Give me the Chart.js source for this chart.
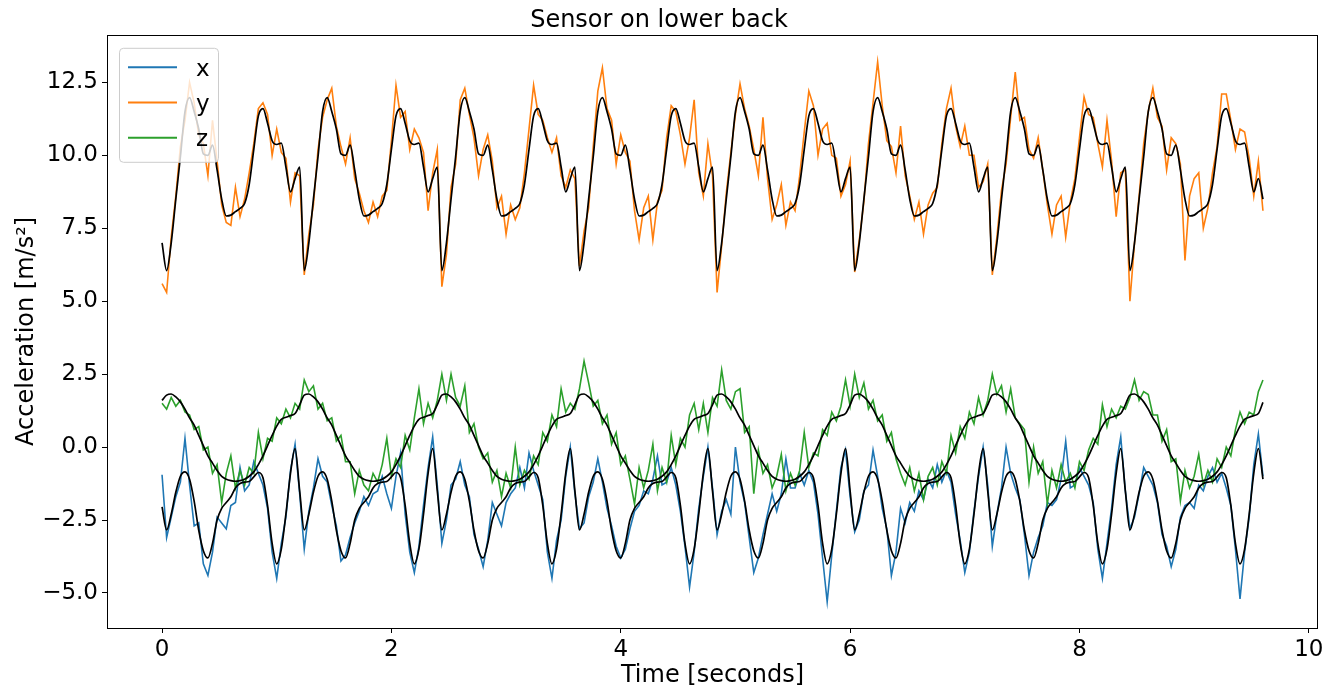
<!DOCTYPE html>
<html>
<head>
<meta charset="utf-8">
<title>Sensor on lower back</title>
<script src="https://cdn.jsdelivr.net/npm/chart.js@4.4.1/dist/chart.umd.min.js"></script>
<style>
    html, body { margin: 0; padding: 0; background: #ffffff; }
    .chart-box { position: relative; width: 1332px; height: 687px; }
</style>
</head>
<body>
<div class="chart-box"><canvas id="sensorChart"></canvas></div>
<script>
/* ========================================
   Lower back sensor - accelerometer plot
   ======================================== */

// Sample clock (seconds), one reading every 0.04 s from 0 to 9.6 s
const sampleStep = 0.04;
const timeSec = Array.from({ length: 241 }, (_, i) => Math.round(i * sampleStep * 100) / 100);

const seriesLabels = ['x', 'y', 'z'];
const xTickValues = [0, 2, 4, 6, 8, 10];
const yTickValues = [-5, -2.5, 0, 2.5, 5, 7.5, 10, 12.5];

// Raw readings, one line per gait cycle (30 samples)
const accX = [-0.95,
    -3.1, -2.4, -1.7, -1.2, 0.3, -1.3, -2.7, -2.6, -4.0, -4.4, -3.6, -2.4, -2.6, -2.8, -2.0, -1.9, -0.7, -1.5, -1.3, -0.5, -0.9, -1.3, -2.1, -3.6, -4.5, -3.3, -2.4, -0.8, 0.1, -1.6,
    -3.5, -2.2, -1.4, -0.4, -1.0, -1.2, -2.0, -2.7, -3.9, -3.7, -3.1, -2.6, -2.2, -1.7, -2.0, -1.6, -1.5, -1.0, -1.6, -2.1, -1.0, -0.2, -2.3, -3.6, -4.3, -3.4, -2.0, -0.7, 0.35, -1.3,
    -3.3, -2.5, -1.3, -1.1, -0.5, -1.3, -1.7, -3.0, -3.5, -4.1, -3.2, -1.9, -2.3, -2.7, -1.9, -1.6, -1.4, -0.7, -1.4, -0.2, -0.8, -1.3, -1.8, -3.6, -4.5, -3.2, -2.5, -1.0, 0.0, -1.6,
    -2.8, -2.6, -1.7, -1.2, -0.4, -1.2, -2.1, -2.7, -3.4, -3.8, -3.5, -2.8, -2.2, -2.0, -1.5, -1.6, -1.1, -0.3, -1.3, -1.2, -0.7, -1.3, -2.2, -3.4, -4.8, -3.6, -2.1, -1.0, 0.0, -1.4,
    -3.0, -2.2, -1.8, -2.3, 0.0, -1.2, -1.9, -3.1, -4.3, -3.8, -3.0, -2.3, -1.6, -2.2, -1.6, -0.4, -1.4, -1.4, -0.9, -1.3, -0.8, -1.2, -2.3, -3.8, -5.3, -3.7, -2.2, -0.7, -0.1, -1.7,
    -2.9, -2.5, -1.5, -1.3, -0.1, -1.0, -2.1, -2.8, -4.4, -3.6, -2.1, -2.6, -1.9, -2.2, -1.5, -1.8, -1.1, -1.4, -0.6, -1.2, -0.8, -1.2, -2.3, -3.2, -4.3, -3.6, -2.2, -1.0, 0.0, -1.3,
    -3.4, -2.3, -1.4, 0.0, -0.9, -1.4, -1.8, -3.0, -4.4, -3.6, -3.1, -2.7, -1.9, -2.0, -1.8, -1.1, 0.2, -1.4, -1.3, -0.7, -1.0, -1.3, -1.9, -3.5, -4.5, -3.3, -2.1, -0.6, 0.35, -1.5,
    -2.8, -2.4, -1.6, -0.7, -1.0, -1.3, -1.9, -3.0, -3.4, -4.1, -3.5, -2.4, -2.0, -1.9, -2.1, -1.3, -1.5, -1.0, -0.7, -1.2, -0.9, -1.4, -2.0, -3.5, -5.2, -3.6, -2.4, -0.6, 0.45, -1.0
];

const accY = [5.6,
    5.3, 7.2, 8.6, 10.3, 11.2, 12.5, 11.8, 10.7, 10.4, 9.3, 11.2, 9.8, 8.3, 7.7, 7.6, 8.9, 7.9, 8.5, 9.4, 10.4, 11.6, 11.8, 11.4, 10.0, 10.9, 10.1, 9.9, 8.4, 9.4, 9.3,
    5.9, 7.3, 8.3, 10.2, 11.3, 11.9, 12.3, 11.0, 10.3, 9.7, 10.6, 9.2, 8.7, 8.1, 7.7, 8.4, 7.9, 8.6, 8.8, 10.5, 12.4, 11.3, 11.5, 10.2, 10.9, 10.6, 10.1, 8.1, 9.4, 10.2,
    5.5, 6.6, 8.9, 9.7, 11.9, 12.3, 11.4, 10.6, 9.3, 10.2, 10.7, 9.8, 8.2, 8.6, 7.3, 8.3, 7.8, 8.2, 9.4, 10.9, 12.4, 11.4, 11.2, 10.6, 10.1, 10.6, 9.3, 8.9, 9.5, 9.2,
    6.2, 7.4, 8.2, 10.3, 12.2, 13.0, 11.6, 11.2, 9.7, 10.7, 10.1, 9.8, 8.1, 7.1, 8.2, 8.6, 7.1, 8.4, 8.8, 10.6, 11.7, 11.5, 10.7, 9.7, 10.6, 11.9, 9.4, 8.6, 10.4, 9.3,
    5.3, 6.9, 8.7, 10.1, 11.4, 12.45, 11.6, 11.0, 10.2, 9.3, 11.3, 9.2, 7.8, 8.3, 9.0, 7.6, 8.4, 8.1, 9.3, 10.8, 12.2, 11.7, 10.0, 10.9, 11.1, 10.0, 9.9, 8.6, 9.0, 9.8,
    6.0, 7.1, 8.4, 10.4, 11.8, 13.2, 11.7, 10.5, 10.3, 9.4, 11.0, 9.3, 8.6, 7.8, 8.4, 7.3, 8.3, 8.7, 8.9, 10.4, 11.6, 12.3, 11.0, 10.3, 11.0, 10.0, 10.0, 8.9, 9.1, 9.7,
    5.9, 7.2, 8.8, 9.7, 11.3, 12.85, 11.2, 11.3, 10.2, 9.9, 10.6, 9.5, 8.3, 7.3, 8.3, 8.6, 7.2, 8.4, 9.2, 10.6, 12.0, 11.4, 11.3, 10.4, 9.6, 11.2, 9.8, 7.9, 9.4, 9.5,
    5.0, 7.0, 8.6, 10.4, 11.5, 12.3, 11.3, 11.0, 9.5, 10.6, 10.4, 9.7, 6.4, 8.6, 9.2, 9.4, 7.5, 8.2, 9.4, 10.3, 12.1, 12.1, 11.2, 10.2, 10.9, 10.8, 9.9, 8.6, 9.8, 8.1
];

const accZ = [1.5,
    1.3, 1.7, 1.4, 1.6, 1.2, 1.1, 0.6, 0.7, -0.1, 0.0, -0.9, -0.6, -1.9, -0.9, -0.3, -1.4, -0.8, -1.3, -0.7, -0.9, 0.5, -0.4, 0.3, 0.2, 1.0, 0.8, 1.3, 1.0, 1.5, 1.3,
    2.3, 1.9, 2.1, 1.3, 1.5, 0.9, 1.0, 0.2, 0.4, -0.5, -0.5, -1.6, -0.8, -1.3, -1.5, -0.9, -1.2, -0.6, 0.3, -1.0, -0.4, -0.7, 0.4, -0.1, 1.0, 2.0, 0.8, 1.5, 1.0, 1.6,
    2.5, 1.6, 2.5, 1.7, 1.4, 2.1, 0.5, 0.8, 0.0, -0.4, -0.2, -1.2, -0.8, -1.7, -0.9, -1.4, 0.0, -1.3, -0.8, -1.1, -0.3, -0.6, 0.5, 0.2, 1.1, 0.7, 2.0, 1.2, 1.5, 1.3,
    2.0, 2.95, 2.2, 1.4, 1.6, 0.8, 1.1, 0.1, 0.5, -0.6, -0.3, -1.1, -1.95, -0.7, -1.4, -0.8, 0.1, -1.5, -0.7, -1.2, 0.4, -0.6, 0.3, 0.0, 1.1, 1.5, 0.6, 1.5, 0.5, 1.7,
    1.4, 2.65, 1.6, 1.3, 1.9, 2.0, 0.5, 0.7, -1.6, -0.1, -0.9, -0.6, -1.4, -1.0, -0.25, -1.5, -0.9, -1.3, -0.8, 0.5, -0.7, -0.2, -0.3, 0.6, 0.4, 1.2, 0.9, 1.4, 2.3, 1.4,
    2.5, 1.7, 2.2, 1.3, 1.6, 0.9, 1.1, 0.2, 0.5, -0.4, -0.9, -1.3, -0.7, -1.5, -0.9, -1.8, -1.0, -0.7, -1.3, -0.5, -0.9, 0.4, -0.2, 0.7, 0.3, 1.2, 0.8, 1.7, 1.1, 1.6,
    2.5, 1.8, 2.1, 1.2, 2.0, 1.0, 0.8, 0.6, -1.2, 0.0, -0.9, -0.5, -1.95, -0.8, -1.4, -0.6, -1.2, -0.9, -1.4, -0.5, -0.8, -0.1, 0.3, 0.1, 1.45, 0.7, 1.3, 1.0, 1.4, 1.3,
    1.7, 2.3, 1.6, 1.9, 1.8, 1.1, 1.1, 0.2, 0.6, -0.5, -0.4, -1.85, -0.8, -1.4, -1.0, -0.25, -1.3, -0.8, -1.2, -0.4, -0.7, 0.0, -0.3, 0.6, 1.2, 0.8, 1.2, 1.1, 1.9, 2.3
];

// Smoothed fits (black curves)
const fitX = [-2.05,
    -2.84, -2.3, -1.55, -1.0, -0.85, -1.1, -1.85, -2.85, -3.55, -3.8, -3.3, -2.5, -2.1, -1.9, -1.7, -1.4, -1.25, -1.2, -1.18, -1.02, -0.87, -1.05, -2.0, -3.3, -4.0, -3.5, -2.3, -0.9, -0.05, -1.5,
    -2.84, -2.3, -1.55, -1.0, -0.85, -1.1, -1.85, -2.85, -3.55, -3.8, -3.3, -2.5, -2.1, -1.9, -1.7, -1.4, -1.25, -1.2, -1.18, -1.02, -0.87, -1.05, -2.0, -3.3, -4.0, -3.5, -2.3, -0.9, -0.05, -1.5,
    -2.84, -2.3, -1.55, -1.0, -0.85, -1.1, -1.85, -2.85, -3.55, -3.8, -3.3, -2.5, -2.1, -1.9, -1.7, -1.4, -1.25, -1.2, -1.18, -1.02, -0.87, -1.05, -2.0, -3.3, -4.0, -3.5, -2.3, -0.9, -0.05, -1.5,
    -2.84, -2.3, -1.55, -1.0, -0.85, -1.1, -1.85, -2.85, -3.55, -3.8, -3.3, -2.5, -2.1, -1.9, -1.7, -1.4, -1.25, -1.2, -1.18, -1.02, -0.87, -1.05, -2.0, -3.3, -4.0, -3.5, -2.3, -0.9, -0.05, -1.5,
    -2.84, -2.3, -1.55, -1.0, -0.85, -1.1, -1.85, -2.85, -3.55, -3.8, -3.3, -2.5, -2.1, -1.9, -1.7, -1.4, -1.25, -1.2, -1.18, -1.02, -0.87, -1.05, -2.0, -3.3, -4.0, -3.5, -2.3, -0.9, -0.05, -1.5,
    -2.84, -2.3, -1.55, -1.0, -0.85, -1.1, -1.85, -2.85, -3.55, -3.8, -3.3, -2.5, -2.1, -1.9, -1.7, -1.4, -1.25, -1.2, -1.18, -1.02, -0.87, -1.05, -2.0, -3.3, -4.0, -3.5, -2.3, -0.9, -0.05, -1.5,
    -2.84, -2.3, -1.55, -1.0, -0.85, -1.1, -1.85, -2.85, -3.55, -3.8, -3.3, -2.5, -2.1, -1.9, -1.7, -1.4, -1.25, -1.2, -1.18, -1.02, -0.87, -1.05, -2.0, -3.3, -4.0, -3.5, -2.3, -0.9, -0.05, -1.5,
    -2.84, -2.3, -1.55, -1.0, -0.85, -1.1, -1.85, -2.85, -3.55, -3.8, -3.3, -2.5, -2.1, -1.9, -1.7, -1.4, -1.25, -1.2, -1.18, -1.02, -0.87, -1.05, -2.0, -3.3, -4.0, -3.5, -2.3, -0.9, -0.05, -1.1
];

const fitY = [7.0,
    6.05, 7.0, 8.5, 9.95, 11.5, 11.98, 11.5, 10.9, 10.05, 10.0, 10.35, 9.5, 8.5, 7.92, 7.95, 8.07, 8.18, 8.35, 9.0, 10.2, 11.35, 11.6, 11.1, 10.5, 10.37, 10.42, 9.6, 8.75, 9.2, 9.6,
    6.05, 7.0, 8.5, 9.95, 11.5, 11.98, 11.5, 10.9, 10.05, 10.0, 10.35, 9.5, 8.5, 7.92, 7.95, 8.07, 8.18, 8.35, 9.0, 10.2, 11.35, 11.6, 11.1, 10.5, 10.37, 10.42, 9.6, 8.75, 9.2, 9.6,
    6.05, 7.0, 8.5, 9.95, 11.5, 11.98, 11.5, 10.9, 10.05, 10.0, 10.35, 9.5, 8.5, 7.92, 7.95, 8.07, 8.18, 8.35, 9.0, 10.2, 11.35, 11.6, 11.1, 10.5, 10.37, 10.42, 9.6, 8.75, 9.2, 9.6,
    6.05, 7.0, 8.5, 9.95, 11.5, 11.98, 11.5, 10.9, 10.05, 10.0, 10.35, 9.5, 8.5, 7.92, 7.95, 8.07, 8.18, 8.35, 9.0, 10.2, 11.35, 11.6, 11.1, 10.5, 10.37, 10.42, 9.6, 8.75, 9.2, 9.6,
    6.05, 7.0, 8.5, 9.95, 11.5, 11.98, 11.5, 10.9, 10.05, 10.0, 10.35, 9.5, 8.5, 7.92, 7.95, 8.07, 8.18, 8.35, 9.0, 10.2, 11.35, 11.6, 11.1, 10.5, 10.37, 10.42, 9.6, 8.75, 9.2, 9.6,
    6.05, 7.0, 8.5, 9.95, 11.5, 11.98, 11.5, 10.9, 10.05, 10.0, 10.35, 9.5, 8.5, 7.92, 7.95, 8.07, 8.18, 8.35, 9.0, 10.2, 11.35, 11.6, 11.1, 10.5, 10.37, 10.42, 9.6, 8.75, 9.2, 9.6,
    6.05, 7.0, 8.5, 9.95, 11.5, 11.98, 11.5, 10.9, 10.05, 10.0, 10.35, 9.5, 8.5, 7.92, 7.95, 8.07, 8.18, 8.35, 9.0, 10.2, 11.35, 11.6, 11.1, 10.5, 10.37, 10.42, 9.6, 8.75, 9.2, 9.6,
    6.05, 7.0, 8.5, 9.95, 11.5, 11.98, 11.5, 10.9, 10.05, 10.0, 10.35, 9.5, 8.5, 7.92, 7.95, 8.07, 8.18, 8.35, 9.0, 10.2, 11.35, 11.6, 11.1, 10.5, 10.37, 10.42, 9.6, 8.75, 9.2, 8.5
];

const fitZ = [1.6,
    1.78, 1.82, 1.72, 1.55, 1.3, 1.0, 0.75, 0.4, 0.05, -0.3, -0.55, -0.8, -1.0, -1.1, -1.15, -1.17, -1.15, -1.1, -1.0, -0.85, -0.6, -0.3, 0.05, 0.4, 0.72, 0.95, 1.02, 1.08, 1.15, 1.45,
    1.78, 1.82, 1.72, 1.55, 1.3, 1.0, 0.75, 0.4, 0.05, -0.3, -0.55, -0.8, -1.0, -1.1, -1.15, -1.17, -1.15, -1.1, -1.0, -0.85, -0.6, -0.3, 0.05, 0.4, 0.72, 0.95, 1.02, 1.08, 1.15, 1.45,
    1.78, 1.82, 1.72, 1.55, 1.3, 1.0, 0.75, 0.4, 0.05, -0.3, -0.55, -0.8, -1.0, -1.1, -1.15, -1.17, -1.15, -1.1, -1.0, -0.85, -0.6, -0.3, 0.05, 0.4, 0.72, 0.95, 1.02, 1.08, 1.15, 1.45,
    1.78, 1.82, 1.72, 1.55, 1.3, 1.0, 0.75, 0.4, 0.05, -0.3, -0.55, -0.8, -1.0, -1.1, -1.15, -1.17, -1.15, -1.1, -1.0, -0.85, -0.6, -0.3, 0.05, 0.4, 0.72, 0.95, 1.02, 1.08, 1.15, 1.45,
    1.78, 1.82, 1.72, 1.55, 1.3, 1.0, 0.75, 0.4, 0.05, -0.3, -0.55, -0.8, -1.0, -1.1, -1.15, -1.17, -1.15, -1.1, -1.0, -0.85, -0.6, -0.3, 0.05, 0.4, 0.72, 0.95, 1.02, 1.08, 1.15, 1.45,
    1.78, 1.82, 1.72, 1.55, 1.3, 1.0, 0.75, 0.4, 0.05, -0.3, -0.55, -0.8, -1.0, -1.1, -1.15, -1.17, -1.15, -1.1, -1.0, -0.85, -0.6, -0.3, 0.05, 0.4, 0.72, 0.95, 1.02, 1.08, 1.15, 1.45,
    1.78, 1.82, 1.72, 1.55, 1.3, 1.0, 0.75, 0.4, 0.05, -0.3, -0.55, -0.8, -1.0, -1.1, -1.15, -1.17, -1.15, -1.1, -1.0, -0.85, -0.6, -0.3, 0.05, 0.4, 0.72, 0.95, 1.02, 1.08, 1.15, 1.45,
    1.78, 1.82, 1.72, 1.55, 1.3, 1.0, 0.75, 0.4, 0.05, -0.3, -0.55, -0.8, -1.0, -1.1, -1.15, -1.17, -1.15, -1.1, -1.0, -0.85, -0.6, -0.3, 0.05, 0.4, 0.72, 0.95, 1.02, 1.08, 1.15, 1.53
];

const seriesColors = ['#1f77b4', '#ff7f0e', '#2ca02c'];
const fontFamily = '"DejaVu Sans", "Liberation Sans", sans-serif';

// Pair every reading with its timestamp
function toPoints(values) {
    return values.map((v, i) => ({ x: timeSec[i], y: v }));
}

// Axes box and matplotlib-like legend drawn on top of the plot
const frameAndLegend = {
    id: 'frameAndLegend',
    afterDraw(chart) {
        const { ctx, chartArea } = chart;
        ctx.save();

        // full frame round the plot
        ctx.strokeStyle = '#000000';
        ctx.lineWidth = 1;
        ctx.strokeRect(Math.round(chartArea.left) + 0.5, Math.round(chartArea.top) + 0.5,
            Math.round(chartArea.right - chartArea.left) - 1, Math.round(chartArea.bottom - chartArea.top));

        // legend box
        const boxX = chartArea.left + 12;
        const boxY = chartArea.top + 13;
        ctx.beginPath();
        ctx.roundRect(boxX + 0.5, boxY + 0.5, 99, 114, 4);
        ctx.fillStyle = 'rgba(255, 255, 255, 0.8)';
        ctx.fill();
        ctx.strokeStyle = '#cccccc';
        ctx.stroke();

        ctx.font = '23px ' + fontFamily;
        ctx.textAlign = 'left';
        ctx.textBaseline = 'alphabetic';
        seriesLabels.forEach((label, k) => {
            const ds = chart.data.datasets.find(d => d.label === label);
            const rowY = boxY + 19.5 + k * 35.2;
            ctx.strokeStyle = ds.borderColor;
            ctx.lineWidth = 2;
            ctx.beginPath();
            ctx.moveTo(boxX + 9, rowY);
            ctx.lineTo(boxX + 58, rowY);
            ctx.stroke();
            ctx.fillStyle = '#000000';
            ctx.fillText(label, boxX + 77, rowY + 8.5);
        });
        ctx.restore();
    }
};

function initSensorChart() {
    const ctx = document.getElementById('sensorChart');
    if (!ctx) return;

    const raw = [accX, accY, accZ];
    const fits = [fitX, fitY, fitZ];
    const datasets = [];

    raw.forEach((values, k) => {
        datasets.push({
            label: seriesLabels[k],
            data: toPoints(values),
            borderColor: seriesColors[k],
            borderWidth: 1.6,
            order: 3 - k
        });
    });
    fits.forEach(values => {
        datasets.push({
            data: toPoints(values),
            borderColor: '#000000',
            borderWidth: 1.7,
            cubicInterpolationMode: 'monotone',
            order: 0
        });
    });

    new Chart(ctx, {
        type: 'line',
        data: { datasets: datasets },
        options: {
            responsive: true,
            maintainAspectRatio: false,
            animation: false,
            parsing: true,
            elements: {
                point: { radius: 0, hoverRadius: 0 },
                line: { tension: 0, fill: false }
            },
            layout: {
                padding: { top: 0, right: 14, bottom: 0, left: 0 }
            },
            plugins: {
                legend: { display: false },
                tooltip: { enabled: false },
                title: {
                    display: true,
                    text: 'Sensor on lower back',
                    color: '#000000',
                    font: { family: fontFamily, size: 24, weight: 'normal' },
                    padding: { top: 6, bottom: 0 }
                }
            },
            scales: {
                x: {
                    type: 'linear',
                    min: -0.48,
                    max: 10.08,
                    afterBuildTicks: function(scale) {
                        scale.ticks = xTickValues.map(v => ({ value: v }));
                    },
                    afterFit: function(scale) {
                        scale.height = 59;
                    },
                    ticks: {
                        color: '#000000',
                        padding: 3,
                        maxRotation: 0,
                        font: { family: fontFamily, size: 23 },
                        callback: function(value) {
                            return String(value);
                        }
                    },
                    grid: {
                        display: true,
                        drawOnChartArea: false,
                        drawTicks: true,
                        tickLength: 5,
                        tickColor: '#000000',
                        tickWidth: 1
                    },
                    border: { display: false },
                    title: {
                        display: true,
                        text: 'Time [seconds]',
                        color: '#000000',
                        font: { family: fontFamily, size: 24 },
                        padding: { top: 0, bottom: -3 }
                    }
                },
                y: {
                    type: 'linear',
                    min: -6.2,
                    max: 14.13,
                    afterBuildTicks: function(scale) {
                        scale.ticks = yTickValues.map(v => ({ value: v }));
                    },
                    afterFit: function(scale) {
                        scale.width = 107;
                    },
                    ticks: {
                        color: '#000000',
                        padding: 4,
                        font: { family: fontFamily, size: 23 },
                        callback: function(value) {
                            return value.toFixed(1).replace('-', '\u2212');
                        }
                    },
                    grid: {
                        display: true,
                        drawOnChartArea: false,
                        drawTicks: true,
                        tickLength: 5,
                        tickColor: '#000000',
                        tickWidth: 1
                    },
                    border: { display: false },
                    title: {
                        display: true,
                        text: 'Acceleration [m/s\u00b2]',
                        color: '#000000',
                        font: { family: fontFamily, size: 24 },
                        padding: { top: 12, bottom: 0 }
                    }
                }
            }
        },
        plugins: [frameAndLegend]
    });
}

document.addEventListener('DOMContentLoaded', initSensorChart);
</script>
</body>
</html>
